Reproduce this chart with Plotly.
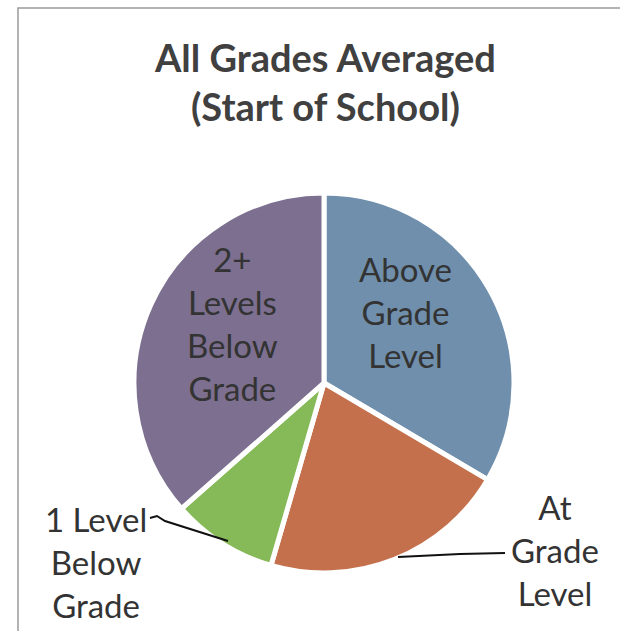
import plotly.graph_objects as go

categories = ["Above Grade Level", "At Grade Level", "1 Level Below Grade", "2+ Levels Below Grade"]
values = [33.5, 21.0, 9.0, 36.5]
colors = ["#6f8fac", "#c4704c", "#86ba58", "#7c6f8f"]

W, H = 620, 631
cx, cy, r = 324, 383, 190

fig = go.Figure(go.Pie(
    labels=categories, values=values, sort=False, direction="clockwise", rotation=0,
    marker=dict(colors=colors, line=dict(color="white", width=5)),
    textinfo="none", hoverinfo="label+percent", showlegend=False,
    domain=dict(x=[(cx - r) / W, (cx + r) / W], y=[(H - cy - r) / H, (H - cy + r) / H]),
))

font = "Lato, Open Sans, sans-serif"
txt = "#333333"

def px(x, y):
    return x / W, 1 - y / H

anns = []
def ann(text, x, y, size=33, color=txt):
    ax, ay = px(x, y)
    anns.append(dict(text=text, x=ax, y=ay, xref="paper", yref="paper", showarrow=False,
                     font=dict(family=font, size=size, color=color), align="center",
                     xanchor="center", yanchor="middle"))

ann("<b>All Grades Averaged</b><br><b>(Start of School)</b>", 325, 81, size=38, color="#404040")
ann("Above<br>Grade<br>Level", 405, 312)
ann("2+<br>Levels<br>Below<br>Grade", 232, 324)
ann("At<br>Grade<br>Level", 555, 550)
ann("1 Level<br>Below<br>Grade", 96, 562)

shapes = []
def line_path(pts, color="#111111", width=2):
    d = "M " + " L ".join(f"{x / W},{1 - y / H}" for x, y in pts)
    shapes.append(dict(type="path", path=d, xref="paper", yref="paper",
                       line=dict(color=color, width=width)))

line_path([(398, 557), (460, 554), (505, 553)])
line_path([(150, 518), (157, 516), (165, 521), (228, 541)])
# frame
line_path([(18, 631), (18, 8), (620, 8)], color="#9a9a9a", width=1.5)

fig.update_layout(width=W, height=H, margin=dict(l=0, r=0, t=0, b=0),
                  paper_bgcolor="white", plot_bgcolor="white",
                  annotations=anns, shapes=shapes)
fig.write_html("out.html", config={"displayModeBar": False},
               post_script="document.body.style.margin='0';document.body.style.overflow='hidden';")
